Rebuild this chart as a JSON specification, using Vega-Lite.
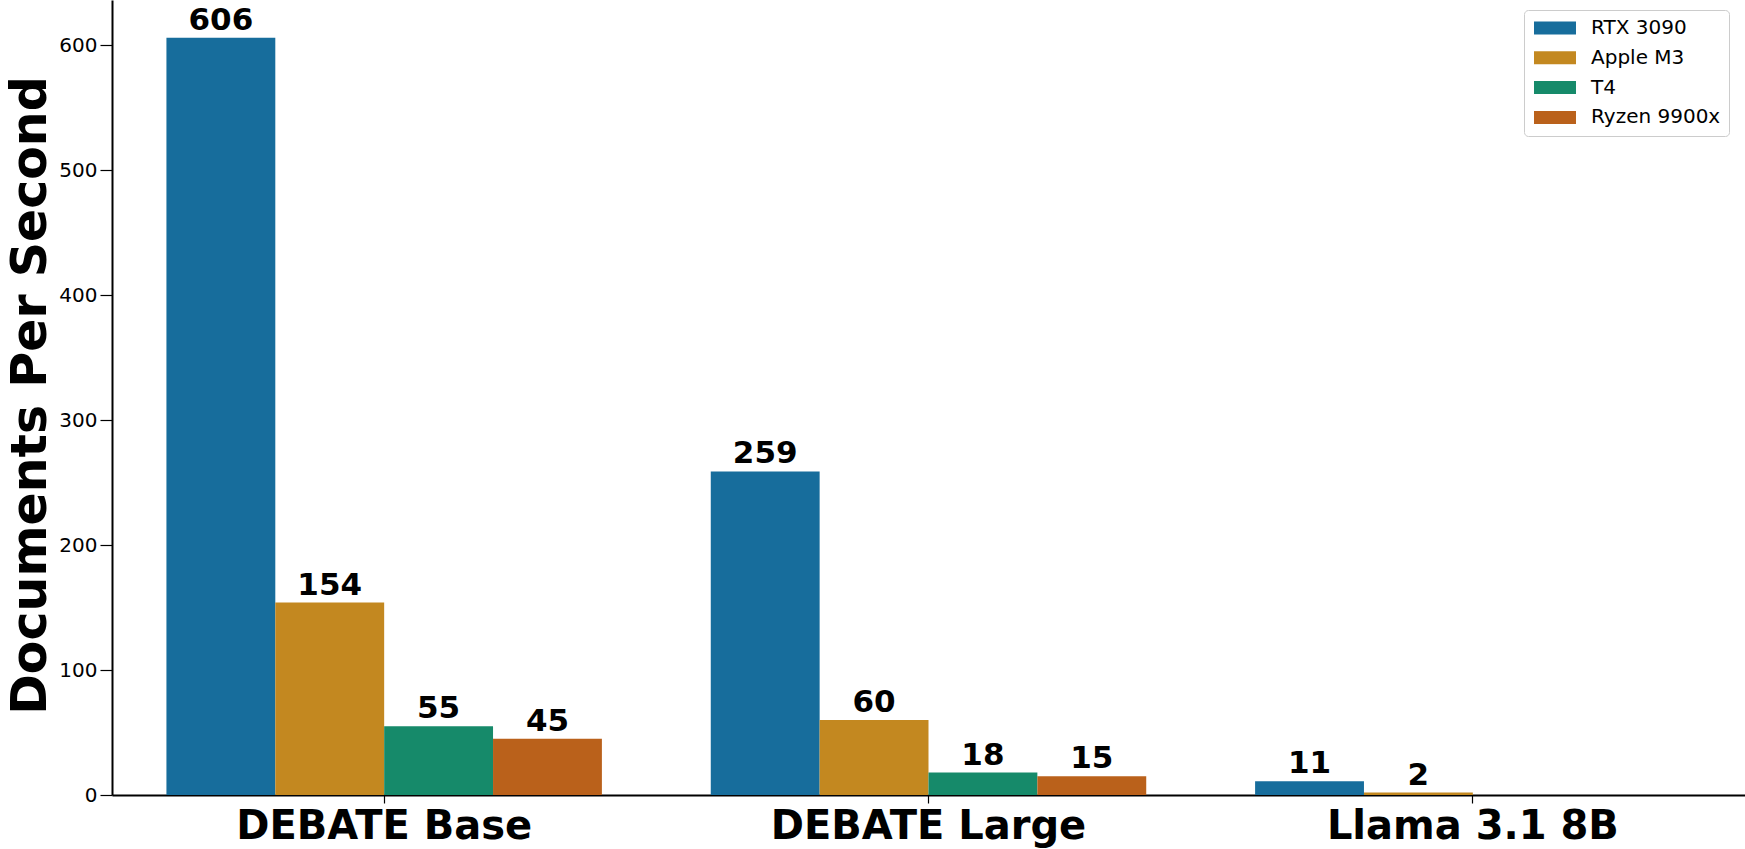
{
  "$schema": "https://vega.github.io/schema/vega-lite/v6.json",
  "width": 1633,
  "height": 795,
  "autosize": {"type": "none"},
  "padding": {"left": 112, "top": 0, "right": 0, "bottom": 54},
  "background": "white",
  "config": {"view": {"stroke": null}},
  "data": {
    "values": [
      {"model": "DEBATE Base", "device": "RTX 3090", "dps": 606},
      {"model": "DEBATE Base", "device": "Apple M3", "dps": 154},
      {"model": "DEBATE Base", "device": "T4", "dps": 55},
      {"model": "DEBATE Base", "device": "Ryzen 9900x", "dps": 45},
      {"model": "DEBATE Large", "device": "RTX 3090", "dps": 259},
      {"model": "DEBATE Large", "device": "Apple M3", "dps": 60},
      {"model": "DEBATE Large", "device": "T4", "dps": 18},
      {"model": "DEBATE Large", "device": "Ryzen 9900x", "dps": 15},
      {"model": "Llama 3.1 8B", "device": "RTX 3090", "dps": 11},
      {"model": "Llama 3.1 8B", "device": "Apple M3", "dps": 2}
    ]
  },
  "encoding": {
    "x": {
      "field": "model",
      "type": "nominal",
      "sort": ["DEBATE Base", "DEBATE Large", "Llama 3.1 8B"],
      "scale": {"paddingInner": 0.2, "paddingOuter": 0.1},
      "axis": {
        "title": null,
        "labelAngle": 0,
        "labelLimit": 0,
        "labelFont": "DejaVu Sans",
        "labelFontWeight": "bold",
        "labelFontSize": 40,
        "labelColor": "black",
        "labelBaseline": "alphabetic",
        "labelPadding": 35,
        "tickSize": 8,
        "tickColor": "black",
        "tickWidth": 1.2,
        "domainColor": "black",
        "domainWidth": 2
      }
    },
    "xOffset": {
      "field": "device",
      "type": "nominal",
      "sort": ["RTX 3090", "Apple M3", "T4", "Ryzen 9900x"],
      "scale": {"paddingInner": 0, "paddingOuter": 0}
    },
    "y": {
      "field": "dps",
      "type": "quantitative",
      "scale": {"domain": [0, 636.3], "nice": false, "zero": true},
      "axis": {
        "title": "Documents Per Second",
        "values": [0, 100, 200, 300, 400, 500, 600],
        "grid": false,
        "domainColor": "black",
        "domainWidth": 2,
        "tickColor": "black",
        "tickWidth": 1.2,
        "tickSize": 12,
        "labelFont": "DejaVu Sans",
        "labelFontSize": 20,
        "labelColor": "black",
        "labelPadding": 3,
        "titleFont": "DejaVu Sans",
        "titleFontWeight": "bold",
        "titleFontSize": 49,
        "titleColor": "black",
        "titleAngle": -90,
        "titleX": -67,
        "titleY": 395,
        "titleAlign": "center",
        "titleBaseline": "alphabetic",
        "titleLimit": 0
      }
    }
  },
  "layer": [
    {
      "mark": {"type": "bar"},
      "encoding": {
        "color": {
          "field": "device",
          "type": "nominal",
          "scale": {
            "domain": ["RTX 3090", "Apple M3", "T4", "Ryzen 9900x"],
            "range": ["#176d9c", "#c38820", "#168a6a", "#ba611b"]
          },
          "legend": {
            "orient": "none",
            "legendX": 1412,
            "legendY": 10,
            "title": null,
            "labelFont": "DejaVu Sans",
            "labelFontSize": 20,
            "labelColor": "black",
            "labelLimit": 0,
            "symbolType": "M-3.23,-1H3.23V1H-3.23Z",
            "symbolSize": 169,
            "symbolOffset": 13,
            "labelOffset": 26,
            "symbolStrokeWidth": 0,
            "symbolOpacity": 1,
            "padding": 8,
            "rowPadding": 9.8,
            "strokeColor": "#cccccc",
            "fillColor": "white",
            "cornerRadius": 4
          }
        }
      }
    },
    {
      "mark": {
        "type": "text",
        "dy": -8,
        "baseline": "alphabetic",
        "align": "center",
        "font": "DejaVu Sans",
        "fontWeight": "bold",
        "fontSize": 31,
        "color": "black"
      },
      "encoding": {
        "text": {"field": "dps", "type": "quantitative", "format": "d"}
      }
    }
  ]
}
